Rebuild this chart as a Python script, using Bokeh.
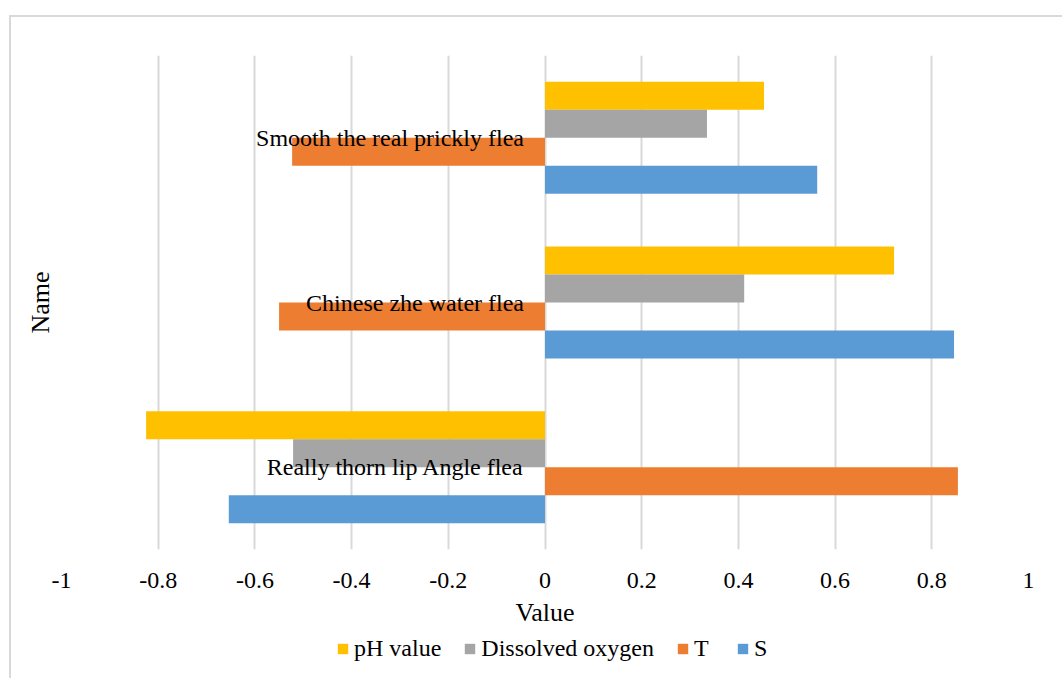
from bokeh.plotting import figure
from bokeh.models import Range1d, FixedTicker, Legend, LegendItem, ColumnDataSource
from bokeh.layouts import column
from bokeh.core.properties import value
from bokeh.embed import file_html
from bokeh.resources import INLINE

categories = ["Really thorn lip Angle flea", "Chinese zhe water flea", "Smooth the real prickly flea"]
series_names = ["pH value", "Dissolved oxygen", "T", "S"]
ph_value = [-0.825, 0.722, 0.453]
dissolved_oxygen = [-0.521, 0.412, 0.335]
t_value = [0.854, -0.550, -0.523]
s_value = [-0.654, 0.846, 0.563]
colors = ["#FFC000", "#A5A5A5", "#ED7D31", "#5B9BD5"]
tick_values = [-1, -0.8, -0.6, -0.4, -0.2, 0, 0.2, 0.4, 0.6, 0.8, 1]
tick_labels = ["-1", "-0.8", "-0.6", "-0.4", "-0.2", "0", "0.2", "0.4", "0.6", "0.8", "1"]

FONT = "Liberation Serif"

cat_pos = [i + 0.5 for i in range(len(categories))]
source = ColumnDataSource(dict(
    cat=categories,
    pos=cat_pos,
    ph=ph_value,
    do=dissolved_oxygen,
    t=t_value,
    s=s_value,
))

p = figure(
    width=1051, height=616,
    y_range=Range1d(0, len(categories)),
    x_range=Range1d(-1, 1),
    output_backend="svg", toolbar_location=None,
    min_border_left=50, min_border_right=34, min_border_top=38, min_border_bottom=84,
)
p.outline_line_color = None
p.background_fill_color = "white"
p.border_fill_color = "white"

bar_h = 0.17
cols = ["ph", "do", "t", "s"]
offsets = [1.5 * bar_h, 0.5 * bar_h, -0.5 * bar_h, -1.5 * bar_h]
for col, off, c in zip(cols, offsets, colors):
    src = ColumnDataSource(dict(y=[v + off for v in cat_pos], right=source.data[col]))
    p.hbar(y="y", left=0, right="right", height=bar_h,
           source=src, fill_color=c, line_color=None)

p.text(x=0, y="pos", text="cat", source=source, x_offset=-21,
       text_align="right", text_baseline="middle",
       text_font=value(FONT), text_font_size="24px", text_color="black")

# x axis
p.xaxis.ticker = FixedTicker(ticks=tick_values)
p.xaxis.major_label_overrides = {v: l for v, l in zip(tick_values, tick_labels)}
p.xaxis.axis_line_color = None
p.xaxis.major_tick_line_color = None
p.xaxis.minor_tick_line_color = None
p.xaxis.major_label_standoff = 17
p.xaxis.major_label_text_font = FONT
p.xaxis.major_label_text_font_size = "24px"
p.xaxis.major_label_text_color = "black"
p.xaxis.axis_label = "Value"
p.xaxis.axis_label_text_font = FONT
p.xaxis.axis_label_text_font_size = "26px"
p.xaxis.axis_label_text_font_style = "normal"
p.xaxis.axis_label_text_color = "black"
p.xaxis.axis_label_standoff = 7

# y axis: title only
p.yaxis.ticker = FixedTicker(ticks=[])
p.yaxis.axis_line_color = None
p.yaxis.major_tick_line_color = None
p.yaxis.minor_tick_line_color = None
p.yaxis.major_tick_out = 0
p.yaxis.major_label_standoff = 0
p.yaxis.axis_label = "Name"
p.yaxis.axis_label_text_font = FONT
p.yaxis.axis_label_text_font_size = "26px"
p.yaxis.axis_label_text_font_style = "normal"
p.yaxis.axis_label_text_color = "black"
p.yaxis.axis_label_standoff = 7

p.xgrid.ticker = FixedTicker(ticks=tick_values)
p.xgrid.grid_line_color = "#D9D9D9"
p.xgrid.grid_line_width = 2
p.ygrid.grid_line_color = None

# legend strip below the chart
lg = figure(
    width=1051, height=45,
    x_range=Range1d(0, 1), y_range=Range1d(0, 1),
    x_axis_location=None, y_axis_location=None,
    output_backend="svg", toolbar_location=None,
    min_border=0,
)
lg.outline_line_color = None
lg.xgrid.visible = False
lg.ygrid.visible = False
# swatch-only renderers, placed outside the strip's visible range
lg_renderers = [lg.hbar(y=[-5], left=[0], right=[1], height=0.1, fill_color=c, line_color=None)
                for c in colors]
legend = Legend(
    items=[LegendItem(label=n, renderers=[r]) for n, r in zip(series_names, lg_renderers)],
    orientation="horizontal", location=(275, 16),
    label_text_font=FONT, label_text_font_size="24px", label_text_color="black",
    glyph_width=13, glyph_height=13, spacing=22, label_standoff=5,
    border_line_color=None, background_fill_alpha=0, padding=0, margin=0,
)
lg.add_layout(legend)

layout = column(p, lg, spacing=0,
                styles={"margin-left": "9px", "margin-top": "15px",
                        "border-left": "2px solid #D9D9D9", "border-top": "2px solid #D9D9D9"})

open("out.html", "w").write(file_html(layout, INLINE))
